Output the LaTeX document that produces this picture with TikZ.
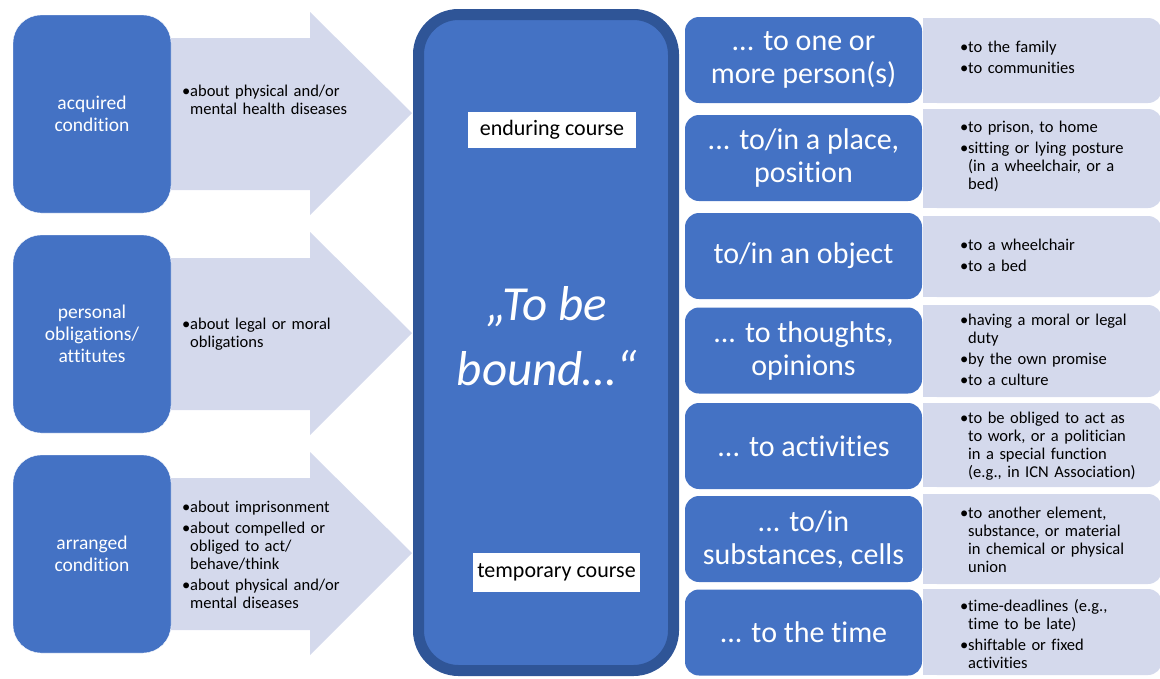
\documentclass[tikz,border=0pt]{standalone}
\usepackage{fontspec}
\setmainfont{Carlito}[Ligatures={TeX,NoCommon}]
\definecolor{accent}{RGB}{68,114,196}
\definecolor{accentdark}{RGB}{47,85,151}
\definecolor{tint}{RGB}{212,217,236}
\newcommand{\bul}[1]{\par\parskip=3pt\hangindent=8pt\hangafter=1\noindent\makebox[8pt][l]{\textbullet}#1\par}
\newcommand{\blockarrow}[1]{%
	\fill[tint] (171,#1-75) -- (310,#1-75) -- (310,#1-101) -- (412,#1)
		-- (310,#1+102) -- (310,#1+77) -- (171,#1+77) -- cycle;}

\begin{document}
\begin{tikzpicture}[x=1pt,y=-1pt]
	% `cause' is used for the three blue boxes on the left.
	% `bond' and `detail' are the two columns on the right.
	\tikzstyle{cause} = [fill=accent,draw=white,text=white,rounded corners=28pt,minimum width=158pt,minimum height=198pt,align=center,font=\fontsize{19.5}{22}\selectfont]
	\tikzstyle{bullets} = [anchor=west,text width=210pt,align=left,inner sep=0pt,font=\fontsize{16.5}{18}\selectfont]
	\tikzstyle{core} = [fill=accent,draw=accentdark,line width=11pt,rounded corners=40pt,minimum width=255pt,minimum height=656pt]
	\tikzstyle{coretext} = [text=white,align=center,font=\fontsize{49}{65}\selectfont\itshape]
	\tikzstyle{course} = [fill=white,minimum width=168pt,minimum height=36pt,font=\fontsize{22}{24}\selectfont]
	\tikzstyle{bond} = [fill=accent,text=white,rounded corners=14pt,minimum width=237pt,minimum height=86pt,align=center,font=\fontsize{30}{33}\selectfont]
	\tikzstyle{detail} = [fill=tint,rounded corners=14pt,minimum width=239pt]
	%
	\useasboundingbox (0,0) rectangle (1160,678);
	% Arrows behind the left boxes.
	\blockarrow{113}
	\blockarrow{333}
	\blockarrow{553}
	\node[cause] (acquired) at (92,114) {acquired\\condition};
	\node[cause] (personal) at (92,334) {personal\\obligations/\\attitutes};
	\node[cause] (arranged) at (92,554) {arranged\\condition};
	\node[bullets] (acquiredex) at (182,95) {\bul{about physical and/or\newline mental health diseases}};
	\node[bullets] (personalex) at (182,329) {\bul{about legal or moral\newline obligations}};
	\node[bullets] (arrangedex) at (182,550.5) {\bul{about imprisonment}\bul{about compelled or\newline obliged to act/\newline behave/think}\bul{about physical and/or\newline mental diseases}};
	% Central box.
	\node[core] (bound) at (546,342.5) {};
	\node[coretext] (boundtext) at (547,336) {„To be\\bound…“};
	\node[course] (enduring) at (552,130) {enduring course};
	\node[course,minimum width=167pt,minimum height=39pt] (temporary) at (556.5,572.5) {temporary course};
	% Right columns.
	\node[bond] (person) at (803.5,60) {... to one or\\more person(s)};
	\node[detail,minimum height=85pt] (personex) at (1042.5,60.5) {};
	\node[bond] (place) at (803.5,158) {... to/in a place,\\position};
	\node[detail,minimum height=99pt] (placeex) at (1042.5,158.5) {};
	\node[bond] (object) at (803.5,256) {to/in an object};
	\node[detail,minimum height=81pt] (objectex) at (1042.5,256.5) {};
	\node[bond] (thought) at (803.5,350.5) {... to thoughts,\\opinions};
	\node[detail,minimum height=92pt] (thoughtex) at (1042.5,351) {};
	\node[bond] (activity) at (803.5,446) {... to activities};
	\node[detail,minimum height=84pt] (activityex) at (1042.5,445) {};
	\node[bond] (substance) at (803.5,539) {... to/in\\substances, cells};
	\node[detail,minimum height=90pt] (substanceex) at (1042.5,539) {};
	\node[bond] (time) at (803.5,632.5) {... to the time};
	\node[detail,minimum height=86pt] (timeex) at (1042.5,632) {};
	% Square left corners of the tinted boxes.
	\fill[tint] (personex.north west) rectangle ([xshift=20pt]personex.south west);
	\fill[tint] (placeex.north west) rectangle ([xshift=20pt]placeex.south west);
	\fill[tint] (objectex.north west) rectangle ([xshift=20pt]objectex.south west);
	\fill[tint] (thoughtex.north west) rectangle ([xshift=20pt]thoughtex.south west);
	\fill[tint] (activityex.north west) rectangle ([xshift=20pt]activityex.south west);
	\fill[tint] (substanceex.north west) rectangle ([xshift=20pt]substanceex.south west);
	\fill[tint] (timeex.north west) rectangle ([xshift=20pt]timeex.south west);
	\node[bullets] (persontext) at (960,52.5) {\bul{to the family}\bul{to communities}};
	\node[bullets] (placetext) at (960,151.5) {\bul{to prison, to home}\bul{sitting or lying posture\newline (in a wheelchair, or a\newline bed)}};
	\node[bullets] (objecttext) at (960,250.5) {\bul{to a wheelchair}\bul{to a bed}};
	\node[bullets] (thoughttext) at (960,345.5) {\bul{having a moral or legal\newline duty}\bul{by the own promise}\bul{to a culture}};
	\node[bullets] (activitytext) at (960,441) {\bul{to be obliged to act as\newline to work, or a politician\newline in a special function\newline (e.g., in ICN Association)}};
	\node[bullets] (substancetext) at (960,535) {\bul{to another element,\newline substance, or material\newline in chemical or physical\newline union}};
	\node[bullets] (timetext) at (960,629.5) {\bul{time-deadlines (e.g.,\newline time to be late)}\bul{shiftable or fixed\newline activities}};
\end{tikzpicture}
\end{document}
